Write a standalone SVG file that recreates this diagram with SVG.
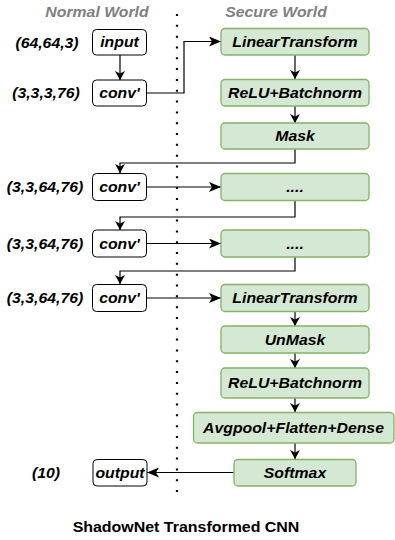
<svg xmlns="http://www.w3.org/2000/svg" width="395" height="540" viewBox="0 0 395 540">
<style>
text{font-family:"Liberation Sans",Arial,sans-serif;font-weight:bold;font-style:italic;font-size:14px;fill:#000;text-anchor:middle}
.hdr{fill:#808080}
.title{font-style:normal;font-size:14.5px}
.w{fill:#fff;stroke:#000;stroke-width:1}
.g{fill:#d5e8d4;stroke:#82b366;stroke-width:1.3}
.c{fill:none;stroke:#000;stroke-width:1.2}
.dot{fill:none;stroke:#000;stroke-width:2.2;stroke-dasharray:2 8.82}
</style>
<defs>
<marker id="ah" markerUnits="userSpaceOnUse" markerWidth="12" markerHeight="10" viewBox="0 0 12 10" refX="12" refY="5" orient="auto"><path d="M0,0 L12,5 L0,10 L3,5 Z" fill="#000"/></marker>
<marker id="av" markerUnits="userSpaceOnUse" markerWidth="9" markerHeight="10" viewBox="0 0 9 10" refX="9" refY="5" orient="auto"><path d="M0,0 L9,5 L0,10 L2.5,5 Z" fill="#000"/></marker>
</defs>
<g id="headers">
<text class="hdr" transform="matrix(1.13 0 0 1 97 16.5)">Normal World</text>
<text class="hdr" transform="matrix(1.13 0 0 1 276 16.5)">Secure World</text>
</g>
<line class="dot" x1="177" y1="14" x2="177" y2="494"/>
<g id="labels">
<text transform="matrix(1.13 0 0 1 47 48)">(64,64,3)</text>
<text transform="matrix(1.13 0 0 1 46 98)">(3,3,3,76)</text>
<text transform="matrix(1.13 0 0 1 45 192)">(3,3,64,76)</text>
<text transform="matrix(1.13 0 0 1 45 248.5)">(3,3,64,76)</text>
<text transform="matrix(1.13 0 0 1 45 303)">(3,3,64,76)</text>
<text transform="matrix(1.13 0 0 1 46 478)">(10)</text>
</g>
<g id="connectors">
<path class="c" d="M120,55 V80" marker-end="url(#av)"/>
<path class="c" d="M147,93 H184 V41.5 H221" marker-end="url(#ah)"/>
<path class="c" d="M295,55 V79" marker-end="url(#av)"/>
<path class="c" d="M295,106 V123" marker-end="url(#av)"/>
<path class="c" d="M295,149 V163 H120 V173" marker-end="url(#av)"/>
<path class="c" d="M147,187 H221" marker-end="url(#ah)"/>
<path class="c" d="M295,201 V217 H120 V230" marker-end="url(#av)"/>
<path class="c" d="M147,243.5 H221" marker-end="url(#ah)"/>
<path class="c" d="M295,257 V271 H120 V284" marker-end="url(#av)"/>
<path class="c" d="M147,298 H221" marker-end="url(#ah)"/>
<path class="c" d="M295,312 V326" marker-end="url(#av)"/>
<path class="c" d="M295,353 V368" marker-end="url(#av)"/>
<path class="c" d="M295,398 V412" marker-end="url(#av)"/>
<path class="c" d="M295,443 V459" marker-end="url(#av)"/>
<path class="c" d="M234,472.5 H147" marker-end="url(#ah)"/>
</g>
<g id="input"><rect class="w" x="92.5" y="29.5" width="54" height="25.5" rx="4"/><text transform="matrix(1.13 0 0 1 119.5 47)">input</text></g>
<g id="conv1"><rect class="w" x="92.5" y="80" width="54" height="26" rx="4"/><text transform="matrix(1.13 0 0 1 119.5 98)">conv'</text></g>
<g id="conv2"><rect class="w" x="92.5" y="173.5" width="54" height="27" rx="4"/><text transform="matrix(1.13 0 0 1 119.5 192)">conv'</text></g>
<g id="conv3"><rect class="w" x="92.5" y="230" width="54" height="27" rx="4"/><text transform="matrix(1.13 0 0 1 119.5 248.5)">conv'</text></g>
<g id="conv4"><rect class="w" x="92.5" y="284.5" width="54" height="27" rx="4"/><text transform="matrix(1.13 0 0 1 119.5 303)">conv'</text></g>
<g id="output"><rect class="w" x="93" y="459.5" width="54" height="26.5" rx="4"/><text transform="matrix(1.13 0 0 1 120 478)">output</text></g>
<g id="lt1"><rect class="g" x="221" y="28.5" width="148" height="26.5" rx="4"/><text transform="matrix(1.13 0 0 1 295 47)">LinearTransform</text></g>
<g id="relu1"><rect class="g" x="221" y="79.5" width="148" height="26.5" rx="4"/><text transform="matrix(1.13 0 0 1 295 98)">ReLU+Batchnorm</text></g>
<g id="mask"><rect class="g" x="221" y="123" width="148" height="26" rx="4"/><text transform="matrix(1.13 0 0 1 295 141)">Mask</text></g>
<g id="dots1"><rect class="g" x="221" y="173.5" width="148" height="27" rx="4"/><text transform="matrix(1.13 0 0 1 295 192)">....</text></g>
<g id="dots2"><rect class="g" x="221" y="230" width="148" height="27" rx="4"/><text transform="matrix(1.13 0 0 1 295 248.5)">....</text></g>
<g id="lt2"><rect class="g" x="221" y="284.5" width="148" height="27" rx="4"/><text transform="matrix(1.13 0 0 1 295 303)">LinearTransform</text></g>
<g id="unmask"><rect class="g" x="221" y="326" width="148" height="27" rx="4"/><text transform="matrix(1.13 0 0 1 295 344.5)">UnMask</text></g>
<g id="relu2"><rect class="g" x="221" y="368" width="148" height="30" rx="4"/><text transform="matrix(1.13 0 0 1 295 388)">ReLU+Batchnorm</text></g>
<g id="avgpool"><rect class="g" x="193.5" y="412.5" width="200.5" height="30.5" rx="4"/><text transform="matrix(1.13 0 0 1 293.5 433)">Avgpool+Flatten+Dense</text></g>
<g id="softmax"><rect class="g" x="234" y="459.5" width="122" height="26.5" rx="4"/><text transform="matrix(1.13 0 0 1 295 478)">Softmax</text></g>
<text class="title" transform="matrix(1.1 0 0 1 186 532)">ShadowNet Transformed CNN</text>
</svg>
